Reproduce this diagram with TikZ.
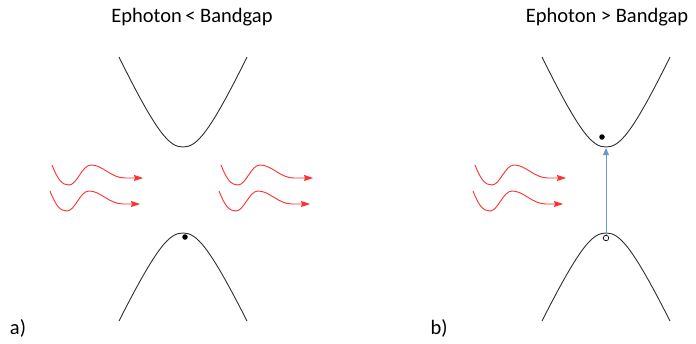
\documentclass[tikz,border=0pt]{standalone}
\usepackage{fontspec}
\setmainfont{Carlito}
\usetikzlibrary{arrows.meta}
\definecolor{colWave}{HTML}{FF3030}
\definecolor{colBand}{HTML}{303030}
\definecolor{colJump}{HTML}{6A9BD0}

\tikzset{
  photon/.style={colWave, line width=0.9pt, -{Stealth[length=9pt,width=6pt,inset=1pt]}},
  band/.style={colBand, line width=0.9pt},
  jump/.style={colJump, line width=0.9pt, -{Triangle[length=7pt,width=6pt]}},
  electron/.style={circle, fill=black, inner sep=0pt, minimum size=5.5pt},
  hole/.style={circle, draw=black, fill=white, line width=0.7pt, inner sep=0pt, minimum size=5.5pt},
  lbl/.style={font=\fontsize{20.5}{24}\selectfont}
}

\begin{document}
\begin{tikzpicture}[x=1pt,y=-1pt]
				\useasboundingbox (0,0) rectangle (696,343);
				% titles and panel letters
				\node[lbl] (titleA) at (192,17) {Ephoton\,< Bandgap};
				\node[lbl] (titleB) at (607,17) {Ephoton > Bandgap};
				\node[lbl] (panA) at (18,328) {a)};
				\node[lbl] (panB) at (439,328) {b)};
				% bands, panel a
				\draw[band] (119,57) .. controls (158,136) and (170,147) .. (183,147)
				.. controls (196,147) and (208,136) .. (247,57);
				\draw[band] (119,321) .. controls (158,244) and (170,233) .. (183,233)
				.. controls (196,233) and (208,244) .. (247,321);
				\node[electron] (elA) at (185,237) {};
				% bands, panel b
				\draw[band] (542,57) .. controls (581,136) and (593,147) .. (606,147)
				.. controls (619,147) and (631,136) .. (670,57);
				\draw[band] (542,321) .. controls (581,244) and (593,233) .. (606,233)
				.. controls (619,233) and (631,244) .. (670,321);
				\node[electron] (elB) at (602,137) {};
				\node[hole] (hoB) at (606,238) {};
				\coordinate (topB) at (606,148);
				\draw[jump] (hoB) -- (topB);
				% incoming and outgoing photons
				\foreach \n/\sx/\sy/\ex/\ey in {1/52/165/143/178, 2/50/191/140/204,
				3/221/165/313/178, 4/219/191/310/204,
				5/475/165/566/178, 6/473/191/563/204}{
					\coordinate (ws\n) at (\sx,\sy);
					\coordinate (we\n) at (\ex,\ey);
					\draw[photon] (ws\n) .. controls +(6,15) and +(-7,0) .. ++(17,20)
					.. controls +(8,0) and +(-9,0) .. ++(22,-20)
					.. controls +(12,0) and +(-14,0) .. ++(34,13) -- (we\n);
				}
		\end{tikzpicture}
\end{document}
